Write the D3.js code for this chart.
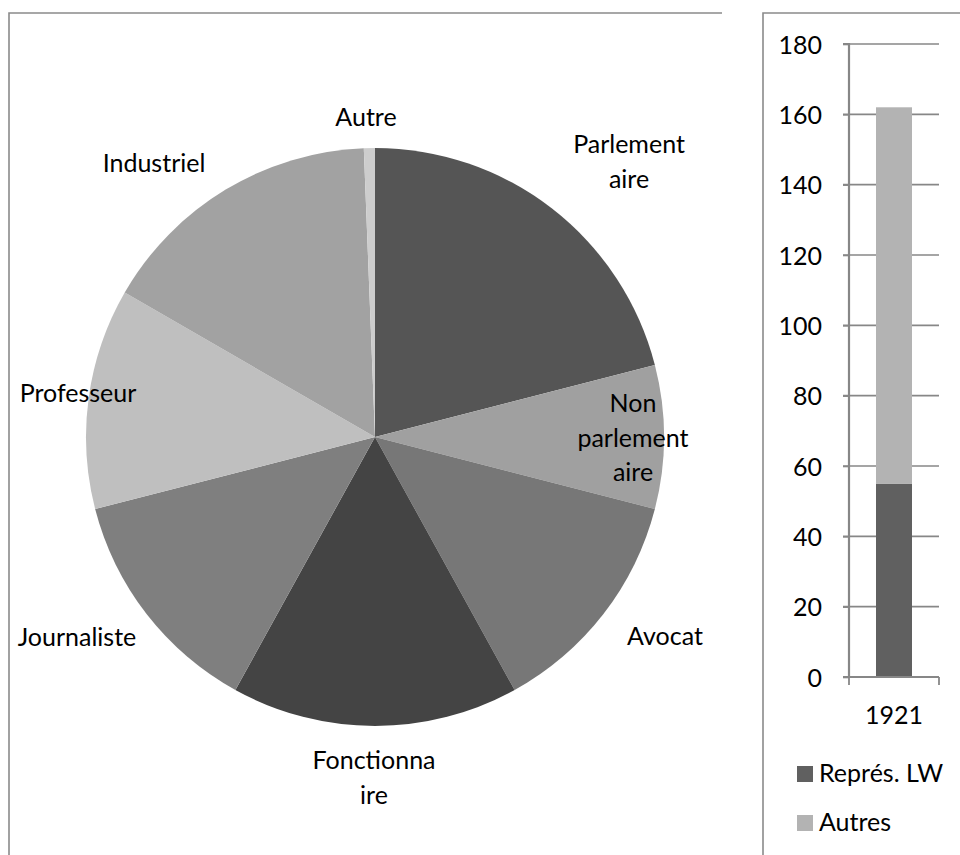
<!DOCTYPE html>
<html>
<head>
<meta charset="utf-8">
<script src="https://cdn.jsdelivr.net/npm/d3@7"></script>
<style>
  html, body { margin: 0; padding: 0; background: #fff; }
  svg { display: block; }
  text { font-family: Lato, "Open Sans", sans-serif; fill: #000; }
</style>
</head>
<body>
<svg id="chart" width="960" height="855"></svg>
<script>
// ---------- DATA ----------
const pieCategories = ["Parlementaire", "Non parlementaire", "Avocat", "Fonctionnaire", "Journaliste", "Professeur", "Industriel", "Autre"];
const pieValues = [34, 13, 21, 26, 21, 20, 26, 1];
const pieLabelLines = [["Parlement", "aire"], ["Non", "parlement", "aire"], ["Avocat"], ["Fonctionna", "ire"], ["Journaliste"], ["Professeur"], ["Industriel"], ["Autre"]];

const barYears = ["1921"];
const barSeries = ["Représ. LW", "Autres"];
const barRepres = [55];
const barAutres = [107];
const yTicks = [0, 20, 40, 60, 80, 100, 120, 140, 160, 180];

// ---------- STYLE / LAYOUT ----------
const pieColors = ["#555555", "#a0a0a0", "#777777", "#444444", "#7f7f7f", "#bfbfbf", "#a2a2a2", "#cdcdcd"];
const barColors = ["#606060", "#b3b3b3"];
const fontSize = 25;
const lineH = 34.5;
// label placement: [dx from centre, baseline of first line from centre]
const labelLayout = [[254, -284], [258, -25], [290, 208], [-1, 332], [-298, 209], [-297, -35], [-221, -265], [-9, -311]];

const svg = d3.select("#chart");

// panel borders
const border = "#8a8a8a";
svg.append("path").attr("d", "M9,855 V13 H722").attr("fill", "none").attr("stroke", border).attr("stroke-width", 1.6);
svg.append("path").attr("d", "M763,855 V13 H960").attr("fill", "none").attr("stroke", border).attr("stroke-width", 1.6);

// ---------- PIE ----------
const cx = 375, cy = 437, R = 289;
const pieG = svg.append("g").attr("transform", `translate(${cx},${cy})`);
const pie = d3.pie().sort(null).value(d => d)(pieValues);
const arc = d3.arc().innerRadius(0).outerRadius(R);
pieG.selectAll("path.slice").data(pie).join("path")
  .attr("class", "slice")
  .attr("d", arc)
  .attr("fill", (d, i) => pieColors[i]);

pieG.selectAll("text.lbl").data(pie).join("text")
  .attr("class", "lbl")
  .attr("text-anchor", "middle")
  .attr("font-size", fontSize)
  .each(function(d, i) {
    const t = d3.select(this);
    const [dx, dy] = labelLayout[i];
    pieLabelLines[i].forEach((ln, k) => {
      t.append("tspan").attr("x", dx).attr("y", dy + k * lineH).text(ln);
    });
  });

// ---------- STACKED BAR ----------
const axisColor = "#878787";
const x0 = 849, x1 = 939, yTop = 44, yBot = 677;
const y = d3.scaleLinear().domain([0, 180]).range([yBot, yTop]);
const x = d3.scaleBand().domain(barYears).range([x0, x1]).paddingInner(0).paddingOuter(0.75);

const barG = svg.append("g");
// gridlines
barG.selectAll("line.grid").data(yTicks.filter(v => v > 0)).join("line")
  .attr("x1", x0 - 6).attr("x2", x1)
  .attr("y1", d => y(d)).attr("y2", d => y(d))
  .attr("stroke", axisColor).attr("stroke-width", 1.6);

// bars
const stackData = barYears.map((yr, i) => ({ year: yr, r: barRepres[i], a: barAutres[i] }));
const stack = d3.stack().keys(["r", "a"])(stackData);
barG.selectAll("g.series").data(stack).join("g")
  .attr("fill", (d, i) => barColors[i])
  .selectAll("rect").data(d => d).join("rect")
  .attr("x", d => x(d.data.year))
  .attr("width", x.bandwidth())
  .attr("y", d => y(d[1]))
  .attr("height", d => y(d[0]) - y(d[1]));

// y axis
const yAxis = d3.axisLeft(y).tickValues(yTicks).tickSize(6).tickPadding(21).tickFormat(d3.format("d"));
const yg = barG.append("g").attr("transform", `translate(${x0},0)`).call(yAxis);
yg.select(".domain").attr("stroke", axisColor).attr("stroke-width", 2.2).attr("d", `M-6,${yTop}H0V${yBot}H-6`);
yg.selectAll(".tick line").attr("stroke", axisColor).attr("stroke-width", 1.6);
yg.selectAll(".tick text").attr("font-size", fontSize).attr("font-family", "Lato, 'Open Sans', sans-serif").attr("fill", "#000").attr("dy", "0.36em");

// x axis
const xg = barG.append("g").attr("transform", `translate(0,${yBot})`);
xg.append("line").attr("x1", x0 - 6).attr("x2", x1).attr("y1", 0).attr("y2", 0).attr("stroke", axisColor).attr("stroke-width", 2.2);
xg.selectAll("line.xt").data([x0, x1]).join("line")
  .attr("x1", d => d).attr("x2", d => d).attr("y1", 0).attr("y2", 8)
  .attr("stroke", axisColor).attr("stroke-width", 1.8);
xg.selectAll("text.xl").data(barYears).join("text")
  .attr("x", d => x(d) + x.bandwidth() / 2).attr("y", 47)
  .attr("text-anchor", "middle").attr("font-size", fontSize).text(d => d);

// legend
const leg = svg.append("g").attr("transform", "translate(797,766)");
barSeries.forEach((s, i) => {
  const g = leg.append("g").attr("transform", `translate(0,${i * 49})`);
  g.append("rect").attr("width", 16).attr("height", 16).attr("fill", barColors[i]);
  g.append("text").attr("x", 22).attr("y", 16).attr("font-size", fontSize).text(s);
});
</script>
</body>
</html>
